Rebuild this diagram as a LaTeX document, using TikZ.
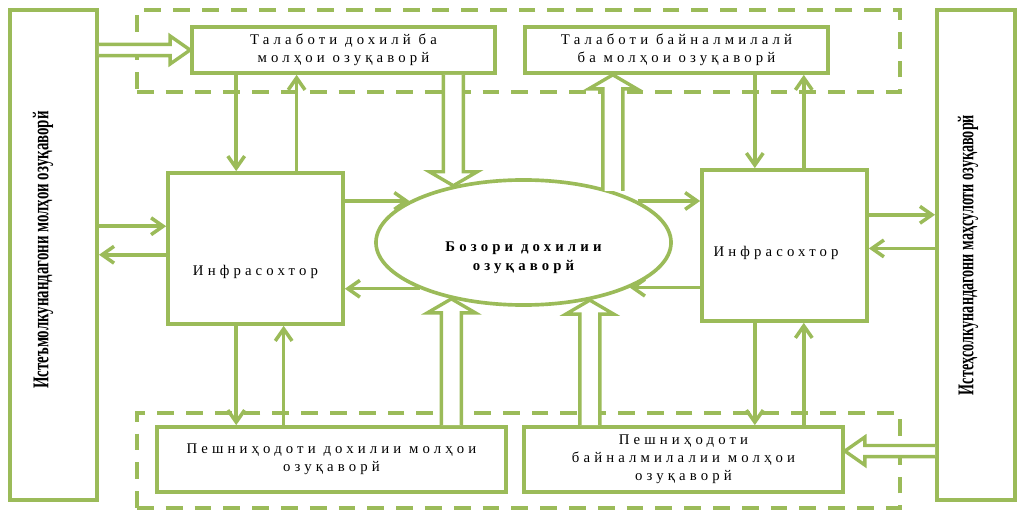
\documentclass[tikz,border=0pt]{standalone}
\usepackage{fontspec}
\setmainfont{Liberation Serif}
\newfontfamily\spaced[LetterSpace=28]{Liberation Serif}
\newfontfamily\narrow[FakeStretch=0.66]{Liberation Serif Bold}
\newfontfamily\slimfont[FakeStretch=0.63]{Liberation Serif Bold}
\usepackage{tikz}
\usetikzlibrary{arrows.meta,calc,shapes.geometric}
\definecolor{leaf}{HTML}{9BBB59}

\begin{document}
\begin{tikzpicture}[x=0.025cm,y=-0.025cm,
  box/.style={draw=leaf,line width=2.6pt,fill=white,align=center,
              font=\spaced\fontsize{10.5}{12.8}\selectfont,inner sep=1pt},
  lbl/.style={font=\spaced\fontsize{10.5}{12.8}\selectfont,align=center},
  lblb/.style={font=\spaced\bfseries\fontsize{10.5}{13.5}\selectfont,align=center},
  band/.style={draw=leaf,line width=2.4pt,dash pattern=on 0.42cm off 0.3cm},
  flow/.style={leaf,line width=2.5pt,-{Straight Barb[length=0.3cm,width=0.42cm]}},
  block/.style n args={3}{draw=leaf,line width=2.4pt,fill=white,to path={
      ($(\tikztostart)!#1!90:(\tikztotarget)$)
      -- ($(\tikztotarget)!#3!(\tikztostart)!#1!-90:(\tikztostart)$)
      -- ($(\tikztotarget)!#3!(\tikztostart)!#2!-90:(\tikztostart)$)
      -- (\tikztotarget)
      -- ($(\tikztotarget)!#3!(\tikztostart)!#2!90:(\tikztostart)$)
      -- ($(\tikztotarget)!#3!(\tikztostart)!#1!90:(\tikztostart)$)
      -- ($(\tikztostart)!#1!-90:(\tikztotarget)$)}},
  hollowv/.style={block={0.25cm}{0.6cm}{0.35cm}},
  hollowh/.style={block={0.14cm}{0.35cm}{0.5cm}},
  side/.style={rotate=90,font=\narrow\fontsize{16}{16}\selectfont}
]
\useasboundingbox (0,0) rectangle (1019,510);

% dashed bands
\node[band,minimum width=19.075cm,minimum height=2.05cm] (topband) at (518.5,51) {};
\node[band,minimum width=19.075cm,minimum height=2.375cm] (lowband) at (518.5,460.5) {};

% consumers and producers
\node[box,line width=2.8pt,minimum width=2.175cm,minimum height=12.25cm] (cons) at (53.5,255) {};
\node[side] (constxt) at (43,250) {Истеъмолкунандагони молҳои озуқаворй};
\node[box,line width=2.8pt,minimum width=1.95cm,minimum height=12.25cm] (prod) at (976,255) {};
\node[side,font=\slimfont\fontsize{16}{16}\selectfont] (prodtxt) at (968,255)
  {Истеҳсолкунандагони маҳсулоти озуқаворй};

% demand
\node[box,minimum width=7.575cm,minimum height=1.15cm] (demin) at (343.5,50)
  {Талаботи дохилй ба\\молҳои озуқаворй};
\node[box,minimum width=7.575cm,minimum height=1.15cm] (demex) at (676.5,50)
  {Талаботи байналмилалй\\ба молҳои озуқаворй};

% infrastructure and market
\node[box,minimum width=4.375cm,minimum height=3.775cm,
      label={[lbl,yshift=-0.59cm]center:Инфрасохтор}] (infl) at (255.5,248.5) {};
\node[box,minimum width=4.125cm,minimum height=3.775cm,
      label={[lbl,xshift=-0.21cm,yshift=-0.19cm]center:Инфрасохтор}] (infr) at (784.5,245.5) {};
\node[box,ellipse,minimum width=7.375cm,minimum height=3.125cm,
      label={[lblb,yshift=-0.39cm]center:Бозори дохилии\\озуқаворй}] (mkt) at (523.5,242.5) {};

% supply
\node[box,minimum width=8.725cm,minimum height=1.625cm] (supin) at (331.5,459.5)
  {Пешниҳодоти дохилии молҳои\\озуқаворй};
\node[box,minimum width=7.975cm,minimum height=1.625cm] (supex) at (683.5,459.5)
  {Пешниҳодоти\\байналмилалии молҳои\\озуқаворй};

% wide flows
\draw[hollowh] (cons.east |- demin.west) to (demin.west);
\draw[hollowv] (mkt.141 |- demin.south) to (mkt.141);
\draw[hollowv] (mkt.30) to (mkt.30 |- demex.south);
\draw[hollowv] (mkt.218 |- supin.north) to (mkt.218);
\draw[hollowv] (mkt.319 |- supex.north) to (mkt.319);
\draw[hollowh] (prod.west |- supex.3) to (supex.3);

% thin flows
\draw[flow] (cons.east |- infl.166) -- (infl.166);
\draw[flow] (infl.184) -- (infl.184 -| cons.east);
\draw[flow] (demin.south -| infl.104) -- (infl.104);
\draw[flow] (infl.62) -- (infl.62 |- demin.south);
\draw[flow] (infl.256) -- (infl.256 |- supin.north);
\draw[flow] (infl.290 |- supin.north) -- (infl.290);
\draw[flow] (mkt.160 -| infl.east) -- (mkt.160);
\draw[flow] (mkt.204) -- (mkt.204 -| infl.east);
\draw[flow] (mkt.20) -- (mkt.20 -| infr.west);
\draw[flow] (mkt.337 -| infr.west) -- (mkt.337);
\draw[flow] (demex.south -| infr.111) -- (infr.111);
\draw[flow] (infr.76) -- (infr.76 |- demex.south);
\draw[flow] (infr.249) -- (infr.249 |- supex.north);
\draw[flow] (infr.284 |- supex.north) -- (infr.284);
\draw[flow] (infr.20) -- (infr.20 -| prod.west);
\draw[flow] (prod.west |- infr.358) -- (infr.358);
\end{tikzpicture}
\end{document}
